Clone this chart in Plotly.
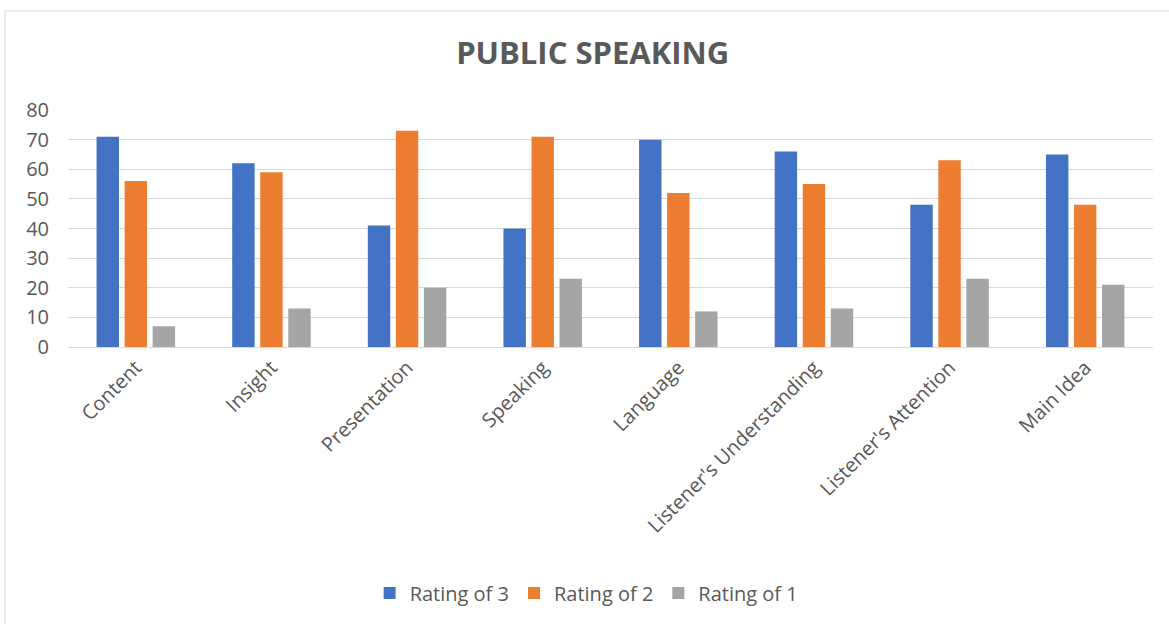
import plotly.graph_objects as go

categories = ["Content", "Insight", "Presentation", "Speaking", "Language",
              "Listener's Understanding", "Listener's Attention", "Main Idea"]
rating3 = [71, 62, 41, 40, 70, 66, 48, 65]
rating2 = [56, 59, 73, 71, 52, 55, 63, 48]
rating1 = [7, 13, 20, 23, 12, 13, 23, 21]
series_names = ["Rating of 3", "Rating of 2", "Rating of 1"]
colors = ["#4472C4", "#ED7D31", "#A5A5A5"]
y_ticks = [0, 10, 20, 30, 40, 50, 60, 70, 80]

FONT = "Open Sans"
TXT = "#595959"

fig = go.Figure()
for name, vals, c in zip(series_names, [rating3, rating2, rating1], colors):
    fig.add_trace(go.Bar(x=categories, y=vals, name=name, marker_color=c,
                         marker_line_width=0))

fig.update_layout(
    width=1169, height=624,
    paper_bgcolor="white", plot_bgcolor="white",
    margin=dict(l=68, r=16, t=110, b=277),
    barmode="group", bargap=0.38, bargroupgap=0.2,
    font=dict(family=FONT, color=TXT, size=20),
    title=dict(text="<b>PUBLIC SPEAKING</b>", x=0.507, xanchor="center",
               y=1 - 53 / 624, yanchor="middle",
               font=dict(family=FONT, size=31, color=TXT)),
    legend=dict(orientation="h", x=0.478, xanchor="center", y=-1.038,
                yanchor="middle", font=dict(size=20, color=TXT),
                itemwidth=30, traceorder="normal"),
    xaxis=dict(tickangle=-45, showgrid=False, showline=True,
               linecolor="#d9d9d9", linewidth=1, ticks="",
               tickfont=dict(size=20, color=TXT)),
    yaxis=dict(range=[0, 80], tickvals=y_ticks, showgrid=True,
               gridcolor="#d9d9d9", gridwidth=1, zeroline=False,
               showline=False, ticks="", ticklabelstandoff=18,
               tickfont=dict(size=20, color=TXT)),
    shapes=[dict(type="rect", xref="paper", yref="paper",
                 x0=(5 - 68) / 1085, x1=1.03, y0=-1.2, y1=(347 - 11) / 237,
                 line=dict(color="#d9d9d9", width=1), fillcolor="rgba(0,0,0,0)",
                 layer="below")],
)

fig.write_html("out.html", config={"displayModeBar": False},
               post_script="document.body.style.margin='0';")
